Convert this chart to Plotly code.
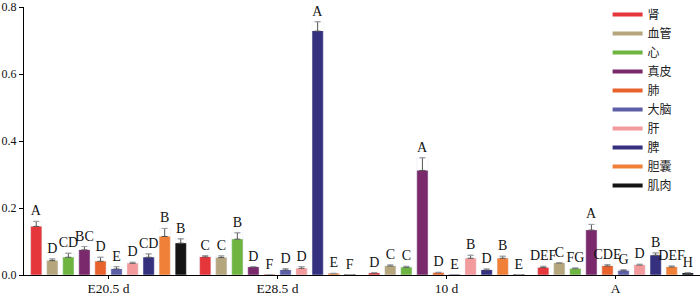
import plotly.graph_objects as go

categories = ["E20.5 d", "E28.5 d", "10 d", "A"]
tissues = ["肾", "血管", "心", "真皮", "肺", "大脑", "肝", "脾", "胆囊", "肌肉"]
colors = ["#e5373b", "#b6a67d", "#6db540", "#7a2a6c", "#e8622e",
          "#5c5fa6", "#f29a9c", "#35317f", "#f08038", "#141414"]

values = {
    "肾":   [0.145, 0.054, 0.006, 0.022],
    "血管": [0.043, 0.052, 0.027, 0.036],
    "心":   [0.053, 0.107, 0.023, 0.019],
    "真皮": [0.075, 0.024, 0.312, 0.134],
    "肺":   [0.041, 0.001, 0.007, 0.027],
    "大脑": [0.018, 0.015, 0.001, 0.013],
    "肝":   [0.035, 0.020, 0.050, 0.030],
    "脾":   [0.053, 0.728, 0.015, 0.059],
    "胆囊": [0.115, 0.004, 0.050, 0.024],
    "肌肉": [0.095, 0.001, 0.001, 0.006],
}
errors = {
    "肾":   [0.015, 0.004, 0.001, 0.004],
    "血管": [0.005, 0.005, 0.003, 0.001],
    "心":   [0.012, 0.019, 0.003, 0.002],
    "真皮": [0.010, 0.001, 0.038, 0.017],
    "肺":   [0.012, 0.000, 0.001, 0.004],
    "大脑": [0.007, 0.004, 0.000, 0.003],
    "肝":   [0.003, 0.005, 0.009, 0.002],
    "脾":   [0.010, 0.028, 0.003, 0.007],
    "胆囊": [0.024, 0.001, 0.006, 0.003],
    "肌肉": [0.013, 0.000, 0.000, 0.001],
}
letters = {
    "肾":   ["A", "C", "D", "DEF"],
    "血管": ["D", "C", "C", "C"],
    "心":   ["CD", "B", "C", "FG"],
    "真皮": ["BC", "D", "A", "A"],
    "肺":   ["D", "F", "D", "CDE"],
    "大脑": ["E", "D", "E", "G"],
    "肝":   ["D", "D", "B", "D"],
    "脾":   ["CD", "A", "D", "B"],
    "胆囊": ["B", "E", "B", "DEF"],
    "肌肉": ["B", "F", "E", "H"],
}

serif = "Liberation Serif, Times New Roman, serif"
fig = go.Figure()
for t, c in zip(tissues, colors):
    v = values[t]
    e = errors[t]
    fig.add_trace(go.Bar(
        x=categories, y=v, name=t, marker=dict(color=c, line=dict(width=0)),
        offsetgroup=t, showlegend=False,
        error_y=dict(type="data", array=e, arrayminus=[0] * len(e), symmetric=False,
                     color="#555555", thickness=1, width=3),
    ))
    fig.add_trace(go.Bar(
        x=categories, y=[a + b for a, b in zip(v, e)], offsetgroup=t,
        marker=dict(color="rgba(0,0,0,0)"), showlegend=False, hoverinfo="skip",
        text=letters[t], textposition="outside", constraintext="none",
        cliponaxis=False, textfont=dict(family=serif, size=14, color="#111111"),
    ))
    fig.add_trace(go.Scatter(
        x=[None], y=[None], mode="lines", name=t,
        line=dict(color=c, width=4), showlegend=True,
    ))

fig.update_layout(
    width=700, height=295,
    margin=dict(l=24, r=0, t=7, b=20, autoexpand=False),
    paper_bgcolor="white", plot_bgcolor="white",
    barmode="group", bargap=0.05, bargroupgap=0.3,
    legend=dict(xref="container", yref="container", x=0.868, y=1.02,
                xanchor="left", yanchor="top",
                font=dict(family="Noto Sans CJK SC", size=12, color="#222"),
                tracegroupgap=0, itemwidth=30, bgcolor="rgba(0,0,0,0)",
                maxheight=1.0),
    xaxis=dict(showline=True, linecolor="black", linewidth=1, ticks="outside",
               ticklen=3, tickcolor="black", automargin=False, ticklabelstandoff=-2,
               tickfont=dict(family=serif, size=13.5, color="#111")),
    yaxis=dict(range=[0, 0.8], dtick=0.2, tickformat=".1f", showline=True,
               linecolor="black", linewidth=1, ticks="outside", ticklen=4,
               tickcolor="black", showgrid=False, zeroline=False, automargin=False,
               tickfont=dict(family=serif, size=12, color="#111")),
)
fig.write_html("out.html", config={"displayModeBar": False},
               post_script="document.body.style.margin='0';")
